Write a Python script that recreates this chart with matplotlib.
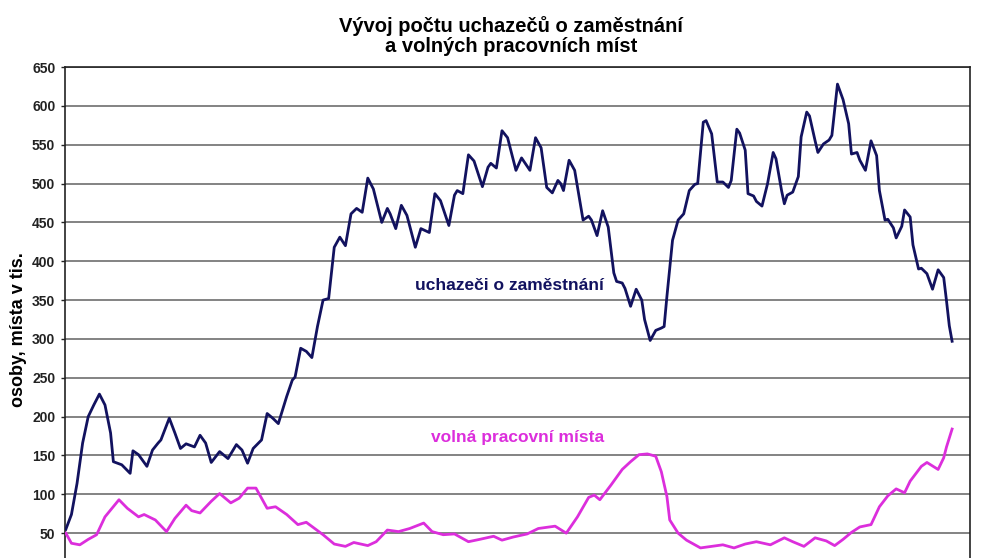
# -*- coding: utf-8 -*-
# Vyvoj poctu uchazecu o zamestnani a volnych pracovnich mist (monthly, from 1/1991)
import matplotlib
matplotlib.use('Agg')
import matplotlib.pyplot as plt

# months since January 1991, values in thousands
uchazeci_mesic = [0, 2, 4, 6, 8, 10, 12, 14, 16, 17, 20, 23, 24, 26, 29, 31, 33, 34, 37, 39,
                  41, 43, 46, 48, 50, 52, 55, 58, 61, 63, 65, 67, 70, 72, 74, 76, 79, 81, 82, 84,
                  86, 88, 90, 92, 94, 96, 98, 100, 102, 104, 106, 108, 110, 113, 115, 116, 118, 120, 122, 125,
                  127, 130, 132, 134, 137, 139, 140, 142, 144, 146, 149, 151, 152, 154, 156, 158, 161, 163, 166, 168,
                  170, 172, 174, 176, 177, 178, 180, 182, 185, 187, 188, 190, 192, 194, 196, 197, 199, 200, 202, 204,
                  206, 207, 209, 211, 213, 214, 215, 217, 219, 221, 223, 225, 226, 228, 229, 231, 233, 235, 237, 238,
                  240, 241, 243, 244, 246, 247, 249, 251, 253, 254, 256, 257, 258, 260, 262, 263, 265, 266, 268, 269,
                  271, 273, 274, 276, 278, 280, 281, 283, 284, 286, 288, 290, 291, 293, 294, 296, 297, 299, 300, 302,
                  303, 305, 306, 308, 310, 312, 314, 315, 316, 317]
uchazeci = [55, 74, 114, 166, 200, 215, 229, 215, 179, 142, 138, 127, 156, 151, 136, 157, 166, 170, 198, 179,
            159, 165, 161, 176, 166, 141, 155, 146, 164, 157, 140, 159, 170, 204, 198, 191, 226, 247, 251, 288,
            284, 276, 316, 350, 352, 418, 431, 420, 461, 468, 463, 507, 493, 450, 468, 461, 442, 472, 459, 418,
            442, 437, 487, 478, 446, 485, 491, 487, 537, 529, 496, 521, 526, 520, 568, 559, 517, 533, 517, 559,
            546, 495, 488, 504, 500, 491, 530, 517, 453, 458, 453, 433, 465, 444, 385, 374, 372, 365, 342, 364,
            350, 325, 298, 311, 314, 316, 355, 427, 453, 461, 491, 499, 500, 579, 581, 564, 502, 502, 495, 504,
            570, 565, 543, 487, 484, 477, 471, 500, 540, 532, 491, 474, 485, 489, 509, 560, 592, 587, 555, 540,
            551, 556, 562, 628, 608, 577, 538, 540, 530, 517, 555, 536, 491, 453, 454, 443, 430, 445, 466, 457,
            421, 390, 391, 384, 364, 389, 379, 349, 317, 297]

mista_mesic = [0, 2, 5, 8, 11, 14, 19, 22, 26, 28, 32, 36, 39, 43, 45, 48, 52, 55, 59, 62,
               65, 68, 72, 75, 79, 83, 86, 89, 92, 96, 100, 103, 108, 111, 115, 119, 123, 128, 131, 135,
               139, 144, 148, 153, 156, 160, 165, 169, 175, 179, 183, 187, 189, 191, 195, 199, 202, 205, 208, 211,
               213, 215, 216, 219, 222, 227, 231, 235, 239, 243, 247, 252, 257, 260, 264, 268, 272, 275, 278, 281,
               284, 288, 291, 294, 297, 300, 302, 306, 308, 312, 314, 315, 317]
mista = [50, 37, 35, 42, 48, 71, 93, 82, 71, 74, 67, 52, 69, 86, 79, 76, 91, 101, 89, 95,
         108, 108, 82, 84, 74, 61, 64, 56, 48, 36, 33, 38, 34, 39, 54, 52, 56, 63, 52, 48,
         49, 39, 42, 46, 41, 45, 49, 56, 59, 50, 71, 96, 99, 93, 112, 132, 142, 151, 152, 149,
         129, 97, 67, 50, 41, 31, 33, 35, 31, 36, 39, 35, 44, 39, 33, 44, 40, 34, 42, 51,
         58, 61, 84, 98, 107, 102, 117, 136, 141, 132, 147, 161, 184]

y_ticks = list(range(50, 651, 50))

plt.rcParams['font.family'] = ['Liberation Sans', 'DejaVu Sans']
plt.rcParams['font.weight'] = 'bold'

fig = plt.figure(figsize=(9.91, 5.58), dpi=100)
# the picture is cut at the bottom, so the axes run below the figure edge
ax = fig.add_axes([0.0656, -0.0251, 0.9132, 0.905])

ax.plot(uchazeci_mesic, uchazeci, color='#12125f', linewidth=2.0, zorder=3)
ax.plot(mista_mesic, mista, color='#dc2edc', linewidth=2.0, zorder=3)

ax.set_ylim(0, 650)
ax.set_xlim(-0.3, 323.4)
ax.set_yticks(y_ticks)
ax.set_yticklabels([str(t) for t in y_ticks], fontsize=10, fontweight='bold')
ax.set_xticks([])
ax.tick_params(axis='y', direction='out', length=3, width=1, pad=4, colors='#222222')
ax.grid(True, axis='y', color='#6e6e6e', linewidth=1.2)
for side in ['top', 'right', 'left', 'bottom']:
    ax.spines[side].set_color('#222222')
    ax.spines[side].set_linewidth(1.2)

ax.text(125, 369, 'uchazeči o zaměstnání', color='#12125f', fontsize=12.5,
        fontweight='bold', va='center', ha='left')
ax.text(130.5, 173, 'volná pracovní místa', color='#dc2edc', fontsize=12.5,
        fontweight='bold', va='center', ha='left')

fig.text(0.516, 0.935, 'Vývoj počtu uchazečů o zaměstnání\na volných pracovních míst',
         ha='center', va='center', fontsize=14.5, fontweight='bold', linespacing=1.05)
fig.text(0.019, 0.41, 'osoby, místa v tis.', rotation=90, ha='center', va='center',
         fontsize=13, fontweight='bold')

fig.savefig('out.png', dpi=100)
